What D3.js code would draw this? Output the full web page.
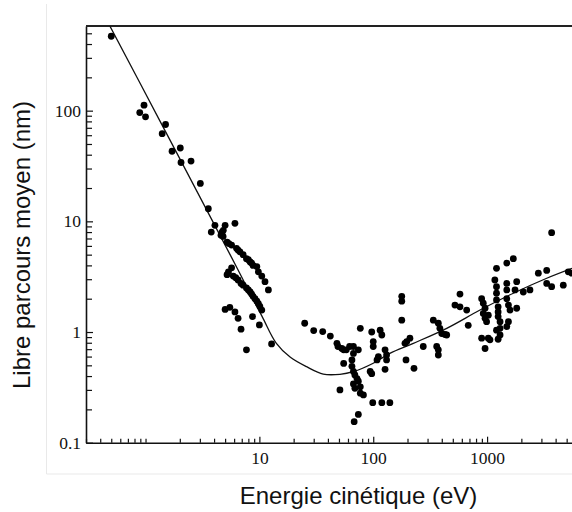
<!DOCTYPE html>
<html><head><meta charset="utf-8">
<script src="https://cdn.jsdelivr.net/npm/d3@7"></script>
<style>body{margin:0;background:#fff}svg{display:block}</style>
</head><body>
<svg id="c" width="572" height="512"></svg>
<script>
// Measured points: kinetic energy (eV) and inelastic mean free path (nm)
const energy = [0.50,0.89,0.97,1.0,1.40,1.50,1.71,2.02,2.05,2.51,3.03,3.56,3.78,4.07,4.82,5.0,6.1,4.6,4.8,4.7,
  5.2,5.7,6.3,6.75,7.2,7.7,8.3,8.8,9.5,9.8,10.5,11.2,12.0,5.4,6.5,8.0,8.55,
  5.7,5.2,5.9,6.5,7.2,7.7,8.3,8.8,9.5,10.1,10.5,5.35,6.2,6.9,8.0,8.55,9.15,9.8,
  5.0,5.5,6.1,6.5,8.7,6.9,10,7.7,12.8,
  25,30,36,42,77,48,53,55,58,67,74,67,55,65,65,67,69,72,74,67,77,69,77,82,51,62,49,
  97,115,119,100,100,127,131,131,111,108,94,97,127,99,119,140,74,68,
  178,178,178,190,194,210,197,228,275,337,373,385,400,427,361,373,373,442,
  578,522,578,662,683,896,1025,960,1250,1060,
  896,926,960,926,960,990,1025,1170,1210,1210,1210,1250,1250,1250,1300,1300,1210,1300,
  1490,1490,1490,1540,1590,1540,1490,1820,1760,1820,2080,2380,1210,1490,1700,
  2820,3340,3340,3690,4670,5170,3690,5550];
const mfp = [470,96,112,88,62,75,43,46,34,35,22,13,8.0,9.2,8.3,9.2,9.6,7.5,7.3,8.0,
  6.5,6.1,5.7,5.3,5.0,4.6,4.3,4.0,3.9,3.5,3.2,2.85,2.4,6.3,5.5,4.5,4.2,
  3.8,3.3,3.2,2.95,2.65,2.5,2.3,2.1,1.9,1.7,1.58,3.5,3.1,2.75,2.4,2.2,2.0,1.8,
  1.6,1.67,1.52,1.33,1.38,1.06,1.16,0.69,0.78,
  1.2,1.03,1.01,0.92,1.08,0.79,0.71,0.69,0.69,0.74,0.69,0.64,0.52,0.56,0.49,0.44,0.41,0.38,0.36,0.34,0.32,0.31,0.28,0.27,0.30,0.74,0.74,
  1.0,1.04,0.94,0.82,0.74,0.69,0.62,0.56,0.60,0.56,0.44,0.42,0.46,0.23,0.23,0.23,0.18,0.155,
  2.1,1.9,1.28,0.79,0.56,0.88,0.82,0.47,0.74,1.28,1.2,1.08,0.97,0.95,0.74,0.69,0.62,0.94,
  2.2,1.75,1.69,1.58,1.15,0.88,0.88,0.71,0.86,0.85,
  2.0,1.82,1.64,1.47,1.33,1.24,1.42,2.95,2.57,2.24,1.95,1.69,1.52,1.38,1.24,1.08,1.04,0.94,
  2.75,2.4,2.0,1.75,1.58,1.24,1.12,2.85,2.4,1.64,2.3,2.4,3.76,4.2,4.6,
  3.4,3.6,2.75,2.57,2.65,3.5,7.9,3.4];

// Universal curve
const curveEnergy = [0.487,1.38,3.91,6.5,10.5,14.1,18.6,26,36.4,51,66.8,100,140,225,442,867,1700,3340,5570];
const curveMfp    = [580,76,9.9,3.63,1.40,0.79,0.595,0.486,0.417,0.415,0.438,0.522,0.642,0.79,1.08,1.58,2.24,3.06,3.76];

const xTickLabels = [10,100,1000];
const yTickLabels = [0.1,1,10,100];
const xTitle = "Energie cinétique (eV)";
const yTitle = "Libre parcours moyen (nm)";

const L = 86, R = 572, T = 26, B = 442.7;
const svg = d3.select("#c");

// faint frame of the original picture
svg.append("line").attr("x1",46.5).attr("x2",46.5).attr("y1",4).attr("y2",474)
  .attr("stroke","#e9e9e9").attr("stroke-width",1);
svg.append("line").attr("x1",46.5).attr("x2",572).attr("y1",474).attr("y2",474)
  .attr("stroke","#e9e9e9").attr("stroke-width",1);

const x = d3.scaleLog().domain([0.3, 5570]).range([L, R]);
const y = d3.scaleLog().domain([0.1, 582]).range([B, T]);

svg.append("clipPath").attr("id","clip").append("rect")
  .attr("x",L).attr("y",T).attr("width",R-L).attr("height",B-T);

const fmt = v => String(v);
const isMajorX = v => xTickLabels.some(t => Math.abs(t - v) / t < 1e-6);
const isMajorY = v => yTickLabels.some(t => Math.abs(t - v) / t < 1e-6);

// x axis
const xAx = svg.append("g").attr("transform",`translate(0,${B})`)
  .call(d3.axisBottom(x).tickValues(x.ticks()).tickSizeInner(-4).tickSizeOuter(0).tickPadding(9)
    .tickFormat(v => isMajorX(v) ? fmt(v) : ""));
xAx.selectAll(".tick line").attr("y2", d => isMajorX(d) ? -6 : -4).attr("stroke","#111").attr("stroke-width",1.2);
xAx.select(".domain").attr("stroke","#111").attr("stroke-width",1.6);
xAx.selectAll("text").attr("font-family","'Liberation Serif','Times New Roman',serif")
  .attr("font-size","17.5px").attr("fill","#111");

// y axis
const yAx = svg.append("g").attr("transform",`translate(${L},0)`)
  .call(d3.axisLeft(y).tickValues(y.ticks()).tickSizeInner(-6).tickSizeOuter(0).tickPadding(5)
    .tickFormat(v => isMajorY(v) ? fmt(v) : ""));
yAx.selectAll(".tick line").attr("x2", d => isMajorY(d) ? 7 : 6).attr("stroke","#111").attr("stroke-width",1.2);
yAx.select(".domain").attr("stroke","#111").attr("stroke-width",1.6);
yAx.selectAll("text").attr("font-family","'Liberation Serif','Times New Roman',serif")
  .attr("font-size","17.5px").attr("fill","#111");

// top frame line
svg.append("line").attr("x1",L).attr("x2",R).attr("y1",T).attr("y2",T)
  .attr("stroke","#222").attr("stroke-width",2);

const plot = svg.append("g").attr("clip-path","url(#clip)");

// curve
const curvePts = curveEnergy.map((e,i) => [e, curveMfp[i]]);
plot.append("path").datum(curvePts)
  .attr("d", d3.line().x(d => x(d[0])).y(d => y(d[1])).curve(d3.curveCatmullRom.alpha(0.5)))
  .attr("fill","none").attr("stroke","#111").attr("stroke-width",1.3);

// points
const pts = energy.map((e,i) => [e, mfp[i]]);
plot.selectAll("circle.pt").data(pts).enter().append("circle")
  .attr("class","pt").attr("cx", d => x(d[0])).attr("cy", d => y(d[1]))
  .attr("r",3.4).attr("fill","#000");

// titles
svg.append("text").attr("x",358.5).attr("y",503.5).attr("text-anchor","middle")
  .attr("font-family","'Liberation Sans',Arial,sans-serif").attr("font-size","24px").attr("fill","#111")
  .text(xTitle);
svg.append("text").attr("transform","translate(30,245) rotate(-90)").attr("text-anchor","middle")
  .attr("font-family","'Liberation Sans',Arial,sans-serif").attr("font-size","24px").attr("fill","#111")
  .text(yTitle);
</script>
</body></html>
